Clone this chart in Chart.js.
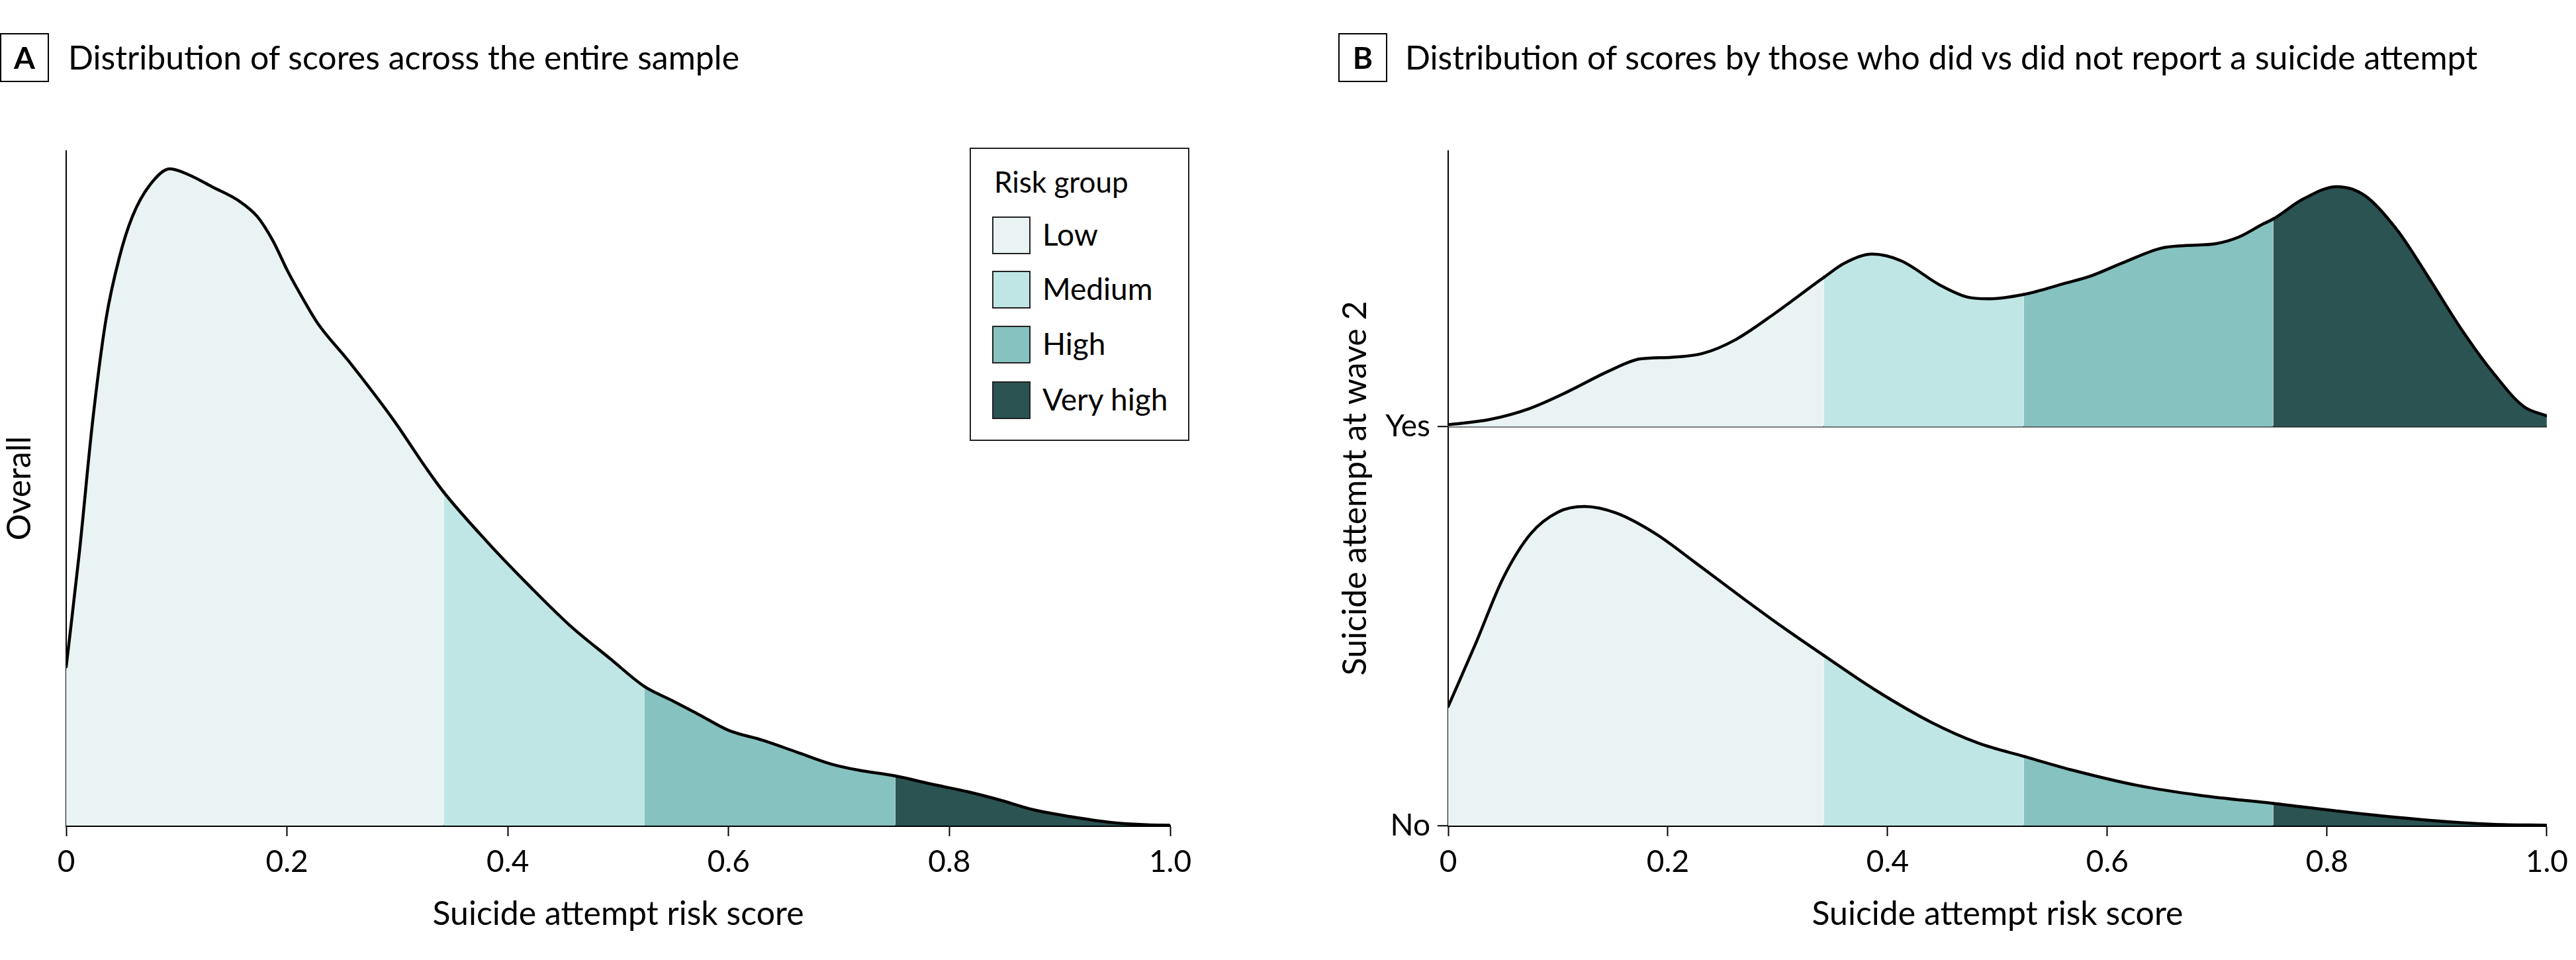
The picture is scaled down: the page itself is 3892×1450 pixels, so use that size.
<!DOCTYPE html>
<html>
<head>
<meta charset="utf-8">
<script src="https://cdn.jsdelivr.net/npm/chart.js@4.4.1/dist/chart.umd.min.js"></script>
<style>
  html, body { margin: 0; padding: 0; background: #fff; }
  #root { position: relative; width: 3892px; height: 1450px; overflow: hidden; font-family: Lato, "Open Sans", sans-serif; color: #000; }
  canvas { position: absolute; top: 0; }
  .box { position: absolute; box-sizing: border-box; width: 74px; height: 74px; top: 50px; border: 2.5px solid #000; font-weight: 700; font-size: 46px; line-height: 69px; text-align: center; }
  .ptitle { position: absolute; top: 61px; font-size: 50px; line-height: 50px; white-space: nowrap; }
  #legend { position: absolute; left: 1465px; top: 223px; width: 332px; height: 443px; box-sizing: border-box; border: 2px solid #222; background: #fff; z-index: 2; }
  .ltitle { position: absolute; font-size: 44px; line-height: 44px; white-space: nowrap; }
  .sw { position: absolute; box-sizing: border-box; width: 58px; height: 57px; border: 2px solid #222; }
  .lab { position: absolute; font-size: 46px; line-height: 46px; white-space: nowrap; }
</style>
</head>
<body>
<div id="root">
  <canvas id="chartA" width="1840" height="1450" style="left:0px"></canvas>
  <canvas id="chartB" width="1992" height="1450" style="left:1900px"></canvas>
  <div class="box" style="left:0px">A</div>
  <div class="ptitle" style="left:103px">Distribution of scores across the entire sample</div>
  <div class="box" style="left:2022px">B</div>
  <div class="ptitle" style="left:2123px">Distribution of scores by those who did vs did not report a suicide attempt</div>
  <div id="legend"></div>
</div>
<script>
// ---------- data ----------
const riskGroups  = ['Low', 'Medium', 'High', 'Very high'];
const riskColors  = ['#e9f3f4', '#bfe6e4', '#86c2c0', '#2b5352'];
const riskCutoffs = [0.342, 0.524, 0.751];

const xTickValues = [0, 0.2, 0.4, 0.6, 0.8, 1.0];
const xTickLabels = ['0', '0.2', '0.4', '0.6', '0.8', '1.0'];

// Panel A: overall density of scores
const overallScore = [0, 0.012, 0.024, 0.036, 0.048, 0.060, 0.076, 0.094, 0.111, 0.132, 0.156, 0.173, 0.187, 0.201, 0.215, 0.228, 0.256, 0.297, 0.325, 0.342, 0.383, 0.421, 0.456, 0.493, 0.524, 0.549, 0.573, 0.600, 0.631, 0.662, 0.693, 0.717, 0.751, 0.783, 0.817, 0.845, 0.876, 0.910, 0.945, 0.979, 1.0];
const overallDensity = [0.80, 1.38, 2.04, 2.55, 2.86, 3.07, 3.23, 3.31, 3.28, 3.22, 3.15, 3.07, 2.95, 2.79, 2.65, 2.53, 2.34, 2.04, 1.81, 1.68, 1.42, 1.20, 1.01, 0.84, 0.70, 0.63, 0.56, 0.48, 0.43, 0.37, 0.31, 0.28, 0.25, 0.21, 0.17, 0.13, 0.08, 0.045, 0.017, 0.004, 0.002];

// Panel B: suicide attempt at wave 2 = Yes
const yesScore = [0, 0.038, 0.074, 0.110, 0.146, 0.175, 0.203, 0.232, 0.261, 0.297, 0.342, 0.361, 0.386, 0.412, 0.448, 0.473, 0.491, 0.524, 0.562, 0.584, 0.613, 0.649, 0.670, 0.699, 0.720, 0.742, 0.751, 0.778, 0.809, 0.835, 0.864, 0.893, 0.921, 0.950, 0.979, 1.0];
const yesDensity = [0.010, 0.037, 0.092, 0.180, 0.280, 0.342, 0.350, 0.370, 0.437, 0.570, 0.753, 0.825, 0.870, 0.837, 0.713, 0.653, 0.645, 0.667, 0.724, 0.758, 0.824, 0.900, 0.913, 0.923, 0.957, 1.023, 1.047, 1.147, 1.210, 1.163, 0.990, 0.747, 0.502, 0.280, 0.102, 0.055];

// Panel B: suicide attempt at wave 2 = No
const noScore = [0, 0.025, 0.050, 0.075, 0.100, 0.124, 0.153, 0.189, 0.225, 0.268, 0.304, 0.342, 0.390, 0.440, 0.483, 0.524, 0.570, 0.627, 0.685, 0.751, 0.821, 0.893, 0.950, 1.0];
const noDensity = [0.600, 0.917, 1.247, 1.470, 1.580, 1.608, 1.575, 1.470, 1.325, 1.147, 1.002, 0.857, 0.679, 0.520, 0.415, 0.349, 0.277, 0.203, 0.152, 0.112, 0.066, 0.027, 0.007, 0.002];

const groupLabels = ['No', 'Yes'];
const yesBase = 2.01;   // where the "Yes" ridge sits on the shared y axis
const yMax = 3.4;

// ---------- helpers ----------
function riskColor(x) {
  let i = 0;
  while (i < riskCutoffs.length && x >= riskCutoffs[i] - 1e-9) i++;
  return riskColors[i];
}
function pts(xs, ys, base) { return xs.map((x, i) => ({ x: x, y: base + ys[i] })); }

Chart.defaults.font.family = 'Lato, "Open Sans", sans-serif';
Chart.defaults.color = '#000';

function ridge(xs, ys, base) {
  return {
    data: pts(xs, ys, base),
    borderColor: '#000',
    borderWidth: 4.5,
    borderJoinStyle: 'round',
    borderCapStyle: 'round',
    pointRadius: 0,
    cubicInterpolationMode: 'monotone',
    fill: base === 0 ? 'origin' : { value: base },
    backgroundColor: riskColors[0],
    segment: { backgroundColor: ctx => riskColor(ctx.p0.parsed.x) }
  };
}

function xScale() {
  return {
    type: 'linear', min: 0, max: 1, z: 1,
    afterBuildTicks: s => { s.ticks = xTickValues.map(v => ({ value: v })); },
    afterFit: s => { s.height = 203; },
    ticks: { font: { size: 46 }, padding: 12, maxRotation: 0, autoSkip: false,
             callback: (v, i) => xTickLabels[i] },
    grid: { display: true, drawOnChartArea: false, drawTicks: true, tickLength: 16, tickWidth: 2, tickColor: '#000', color: '#000' },
    border: { display: true, color: '#000', width: 3 },
    title: { display: true, text: 'Suicide attempt risk score', font: { size: 50 }, padding: { top: 0, bottom: 39 } }
  };
}

const baseOptions = {
  responsive: false, animation: false, devicePixelRatio: 1,
  plugins: { legend: { display: false }, tooltip: { enabled: false } },
  events: []
};

// ---------- Panel A ----------
new Chart(document.getElementById('chartA'), {
  type: 'line',
  data: { datasets: [ridge(overallScore, overallDensity, 0)] },
  options: Object.assign({}, baseOptions, {
    layout: { padding: { top: 228, right: 72, left: 0, bottom: 0 } },
    scales: {
      x: xScale(),
      y: {
        type: 'linear', min: 0, max: yMax, z: 1,
        afterFit: s => { s.width = 100; },
        ticks: { display: false },
        grid: { display: false },
        border: { display: true, color: '#000', width: 2 },
        title: { display: true, text: 'Overall', font: { size: 50 }, padding: { top: 0, bottom: 0 } }
      }
    }
  })
});

// ---------- Panel B ----------
new Chart(document.getElementById('chartB'), {
  type: 'line',
  data: { datasets: [ridge(yesScore, yesDensity, yesBase), ridge(noScore, noDensity, 0)] },
  options: Object.assign({}, baseOptions, {
    layout: { padding: { top: 228, right: 34, left: 0, bottom: 0 } },
    scales: {
      x: xScale(),
      y: {
        type: 'linear', min: 0, max: yMax, z: 1,
        afterBuildTicks: s => { s.ticks = [{ value: 0 }, { value: yesBase }]; },
        afterFit: s => { s.width = 288; },
        ticks: { font: { size: 46 }, padding: 11, callback: (v, i) => groupLabels[i] },
        grid: { display: true, drawOnChartArea: true, drawTicks: true, tickLength: 16, lineWidth: 2.5, color: '#000', tickColor: '#000', tickWidth: 2 },
        border: { display: true, color: '#000', width: 2 },
        title: { display: true, text: 'Suicide attempt at wave 2', font: { size: 50 }, padding: { top: 118, bottom: 0 } }
      }
    }
  })
});

// ---------- legend (Panel A) ----------
(function () {
  const lg = document.getElementById('legend');
  const L = 1465, T = 223;
  const t = document.createElement('div');
  t.className = 'ltitle'; t.textContent = 'Risk group';
  t.style.left = (1502 - L - 2) + 'px'; t.style.top = (252 - T - 2) + 'px';
  lg.appendChild(t);
  const swTops = [327, 409, 492, 576];
  riskGroups.forEach((g, i) => {
    const s = document.createElement('div');
    s.className = 'sw'; s.style.background = riskColors[i];
    s.style.left = (1499 - L - 2) + 'px'; s.style.top = (swTops[i] - T - 2) + 'px';
    lg.appendChild(s);
    const l = document.createElement('div');
    l.className = 'lab'; l.textContent = g;
    l.style.left = (1575 - L - 2) + 'px'; l.style.top = (swTops[i] + 4 - T - 2) + 'px';
    lg.appendChild(l);
  });
})();
</script>
</body>
</html>
